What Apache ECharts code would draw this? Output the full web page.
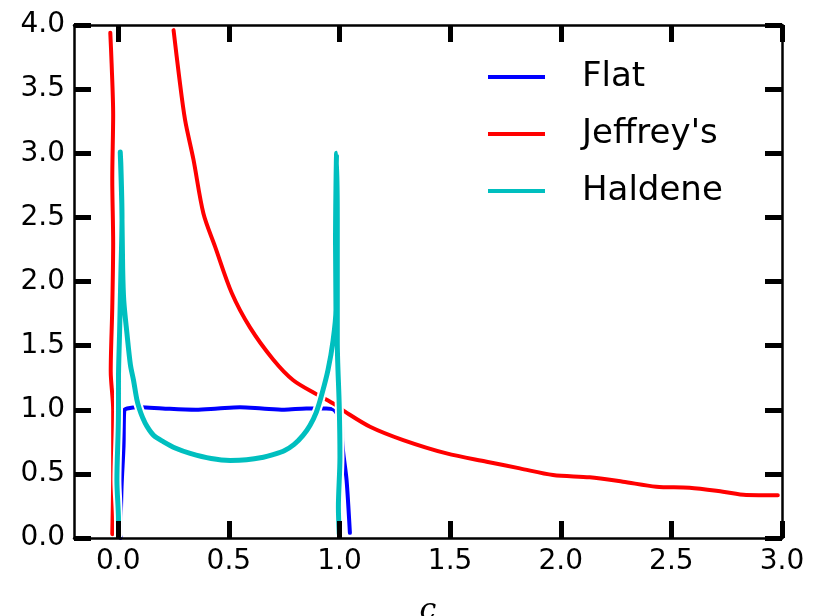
<!DOCTYPE html>
<html>
<head>
<meta charset="utf-8">
<script src="https://cdn.jsdelivr.net/npm/echarts@6/dist/echarts.min.js"></script>
<style>
  html, body { margin: 0; padding: 0; background: #ffffff; }
  #chart { width: 823px; height: 616px; }
</style>
</head>
<body>
<div id="chart"></div>
<script>
// Tick positions on the c axis and on the density axis
const xTicks = [0, 0.5, 1.0, 1.5, 2.0, 2.5, 3.0];
const yTicks = [0, 0.5, 1.0, 1.5, 2.0, 2.5, 3.0, 3.5, 4.0];

// Prior densities over c, traced as (c, density) pairs in hand-drawn style
const flatPts = [
  [0.010, 0.00], [0.015, 0.40], [0.024, 0.72], [0.027, 0.99], [0.040, 1.01],
  [0.10, 1.02], [0.20, 1.01], [0.35, 1.00], [0.45, 1.01], [0.55, 1.02],
  [0.65, 1.01], [0.75, 1.00], [0.85, 1.01], [0.94, 1.01], [0.975, 1.00],
  [0.995, 0.95], [1.011, 0.90], [1.012, 0.76], [1.032, 0.45], [1.047, 0.04]
];

const jeffreysEdge = [
  [-0.027, 0.03], [-0.023, 0.50], [-0.023, 1.00], [-0.034, 1.30], [-0.027, 1.80],
  [-0.023, 2.30], [-0.027, 2.80], [-0.023, 3.30], [-0.030, 3.70], [-0.036, 3.94]
];

const jeffreysPts = [
  [0.250, 3.96], [0.275, 3.60], [0.302, 3.26], [0.340, 2.95], [0.385, 2.53],
  [0.438, 2.27], [0.513, 1.91], [0.596, 1.64], [0.701, 1.39], [0.791, 1.23],
  [0.897, 1.12], [0.980, 1.04], [1.025, 0.985], [1.138, 0.868], [1.288, 0.764],
  [1.484, 0.660], [1.665, 0.595], [1.815, 0.543], [1.965, 0.491], [2.131, 0.473],
  [2.281, 0.439], [2.432, 0.400], [2.582, 0.392], [2.733, 0.361], [2.838, 0.335],
  [2.981, 0.333]
];

const haldenePts = [
  [0.001, 0.03], [0.001, 0.14], [-0.006, 0.45], [0.001, 0.97], [0.001, 1.23],
  [0.006, 1.60], [0.012, 2.07], [0.017, 2.50], [0.012, 2.90], [0.009, 3.01],
  [0.016, 2.60], [0.020, 2.10], [0.025, 1.85], [0.039, 1.60], [0.055, 1.35],
  [0.069, 1.23], [0.084, 1.08], [0.095, 1.01], [0.110, 0.94], [0.130, 0.87],
  [0.160, 0.80], [0.205, 0.75], [0.260, 0.70], [0.325, 0.66], [0.420, 0.62],
  [0.506, 0.605], [0.580, 0.61], [0.656, 0.63], [0.700, 0.65], [0.750, 0.68],
  [0.795, 0.73], [0.835, 0.80], [0.867, 0.88], [0.895, 0.98], [0.920, 1.12],
  [0.948, 1.31], [0.971, 1.54], [0.984, 1.78], [0.982, 2.30], [0.987, 3.00],
  [0.990, 2.50], [0.990, 1.54], [0.999, 1.02], [1.002, 0.63], [0.995, 0.24],
  [0.999, 0.03]
];

const BLUE = '#0000ff';
const RED = '#ff0000';
const CYAN = '#00bfbf';
const FONT = 'DejaVu Sans';

// White outline drawn under each curve so crossings show a small gap
function halo(data, width) {
  return {
    type: 'line', data: data, symbol: 'none', silent: true, smooth: 0.3,
    lineStyle: { color: '#ffffff', width: width, cap: 'round', join: 'round' },
    emphasis: { disabled: true }, animation: false
  };
}
function curve(name, data, color, width) {
  return {
    type: 'line', name: name, data: data, symbol: 'none', smooth: 0.3,
    lineStyle: { color: color, width: width, cap: 'round', join: 'round' },
    itemStyle: { color: color },
    emphasis: { disabled: true }, animation: false
  };
}

const tickStyle = { show: true, inside: true, length: 17, lineStyle: { color: '#000', width: 5 } };
const axisLine = { show: true, onZero: false, lineStyle: { color: '#000', width: 2.5 } };

const chart = echarts.init(document.getElementById('chart'));
chart.setOption({
  animation: false,
  backgroundColor: '#ffffff',
  grid: { left: 74, right: 41, top: 25, bottom: 78, containLabel: false, outerBoundsMode: 'none' },
  legend: {
    data: [
      { name: 'Flat', icon: 'rect' },
      { name: "Jeffrey's", icon: 'rect' },
      { name: 'Haldene', icon: 'rect' }
    ],
    orient: 'vertical', left: 483, top: 52,
    itemWidth: 57, itemHeight: 4, itemGap: 17,
    selectedMode: false,
    textStyle: { fontFamily: FONT, fontSize: 34, color: '#000', lineHeight: 40, padding: [0, 0, 0, 32] }
  },
  xAxis: [
    {
      type: 'value', min: -0.2, max: 3.0, position: 'bottom', z: 10,
      name: 'c', nameLocation: 'middle', nameGap: 58,
      nameTextStyle: { fontFamily: 'DejaVu Serif', fontStyle: 'italic', fontSize: 30, color: '#000' },
      axisLine: axisLine,
      axisTick: Object.assign({ customValues: xTicks }, tickStyle),
      axisLabel: {
        customValues: xTicks, margin: 10, fontFamily: FONT, fontSize: 28, color: '#000',
        formatter: v => v.toFixed(1)
      },
      splitLine: { show: false }
    },
    {
      type: 'value', min: -0.2, max: 3.0, position: 'top', z: 10,
      axisLine: axisLine,
      axisTick: Object.assign({ customValues: xTicks }, tickStyle),
      axisLabel: { show: false },
      splitLine: { show: false }
    }
  ],
  yAxis: [
    {
      type: 'value', min: 0, max: 4, interval: 0.5, position: 'left', z: 10,
      axisLine: axisLine,
      axisTick: Object.assign({ customValues: yTicks }, tickStyle),
      axisLabel: {
        customValues: yTicks, margin: 9, fontFamily: FONT, fontSize: 28, color: '#000',
        formatter: v => v.toFixed(1)
      },
      splitLine: { show: false }
    },
    {
      type: 'value', min: 0, max: 4, interval: 0.5, position: 'right', z: 10,
      axisLine: axisLine,
      axisTick: Object.assign({ customValues: yTicks }, tickStyle),
      axisLabel: { show: false },
      splitLine: { show: false }
    }
  ],
  series: [
    halo(flatPts, 8),
    curve('Flat', flatPts, BLUE, 4),
    halo(jeffreysEdge, 8),
    curve("Jeffrey's", jeffreysEdge, RED, 4),
    halo(jeffreysPts, 8),
    curve("Jeffrey's", jeffreysPts, RED, 4),
    halo(haldenePts, 9),
    curve('Haldene', haldenePts, CYAN, 5)
  ]
});
</script>
</body>
</html>
